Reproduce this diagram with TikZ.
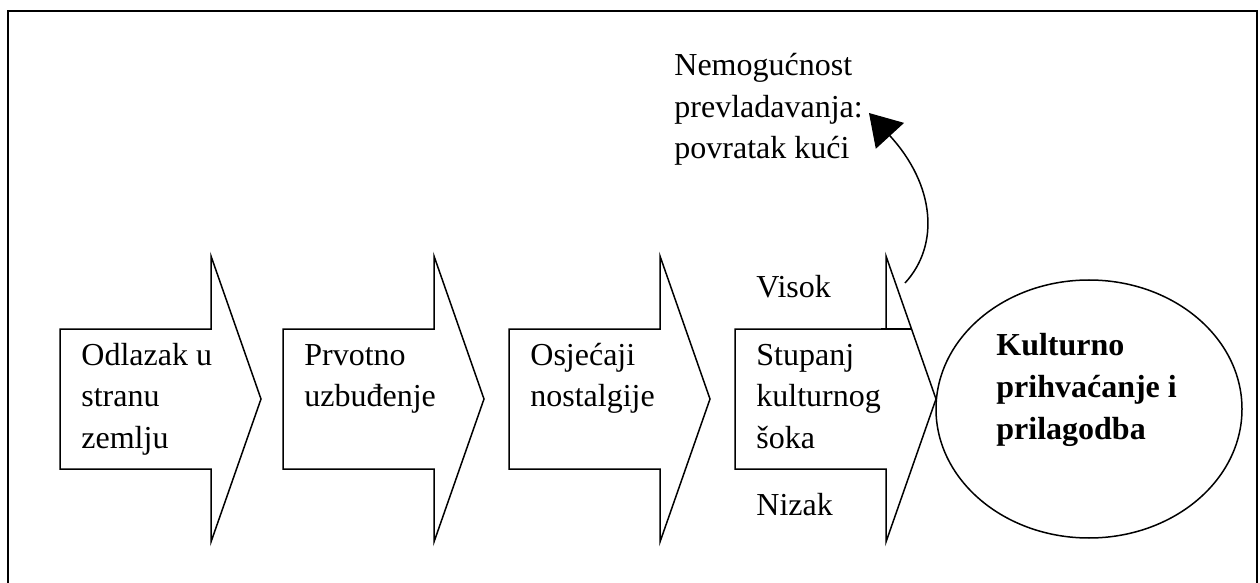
\documentclass[tikz,border=0pt]{standalone}
\usepackage{fontspec}
\setmainfont{Liberation Serif}
\usetikzlibrary{arrows.meta,shapes.geometric}
\tikzset{
  stage/.style={draw,line width=.75pt},
  txt/.style={anchor=base west,inner sep=0pt,align=left,font=\fontsize{16}{20.75}\selectfont},
}
\begin{document}
\begin{tikzpicture}[x=.5pt,y=-.5pt]
\useasboundingbox (0,0) rectangle (1260,583);
\draw[line width=1pt] (8,583)--(8,11)--(1257,11)--(1257,583);
% stages (text anchored on its last line)
\foreach \L/\yb/\nm/\txt in {60/448/odlazak/{Odlazak u\\stranu\\zemlju},283/406.5/uzbud/{Prvotno\\uzbuđenje},509/406.5/nostal/{Osjećaji\\nostalgije},735/448/sok/{Stupanj\\kulturnog\\šoka}}{
  \draw[stage] (\L,329)--({\L+151},329)--({\L+151},256)--({\L+201},399)--({\L+151},542)--({\L+151},469)--(\L,469)--cycle;
  \node[txt] (\nm) at ({\L+21},\yb) {\txt};
}
\draw[line width=1.25pt] (881,329)--(911,329);
\node[txt] (visok) at (756,298) {Visok};
\node[txt] (nizak) at (756,515) {Nizak};
\node[draw,ellipse,line width=.75pt,minimum width=153pt,minimum height=129pt,inner sep=0pt] (prihv) at (1089,409) {};
\node[txt,font=\fontsize{16}{21}\selectfont\bfseries] (kult) at (996,439) {Kulturno\\prihvaćanje i\\prilagodba};
\node[txt] (povratak) at (674,159) {Nemogućnost\\prevladavanja:\\povratak kući};
\coordinate (up) at (905,283);
\coordinate (tip) at (869,113);
\draw[line width=.75pt,-{Triangle[length=15.5pt,width=19pt]}] (up) .. controls (940,245) and (935,185) .. (tip);
\end{tikzpicture}
\end{document}
